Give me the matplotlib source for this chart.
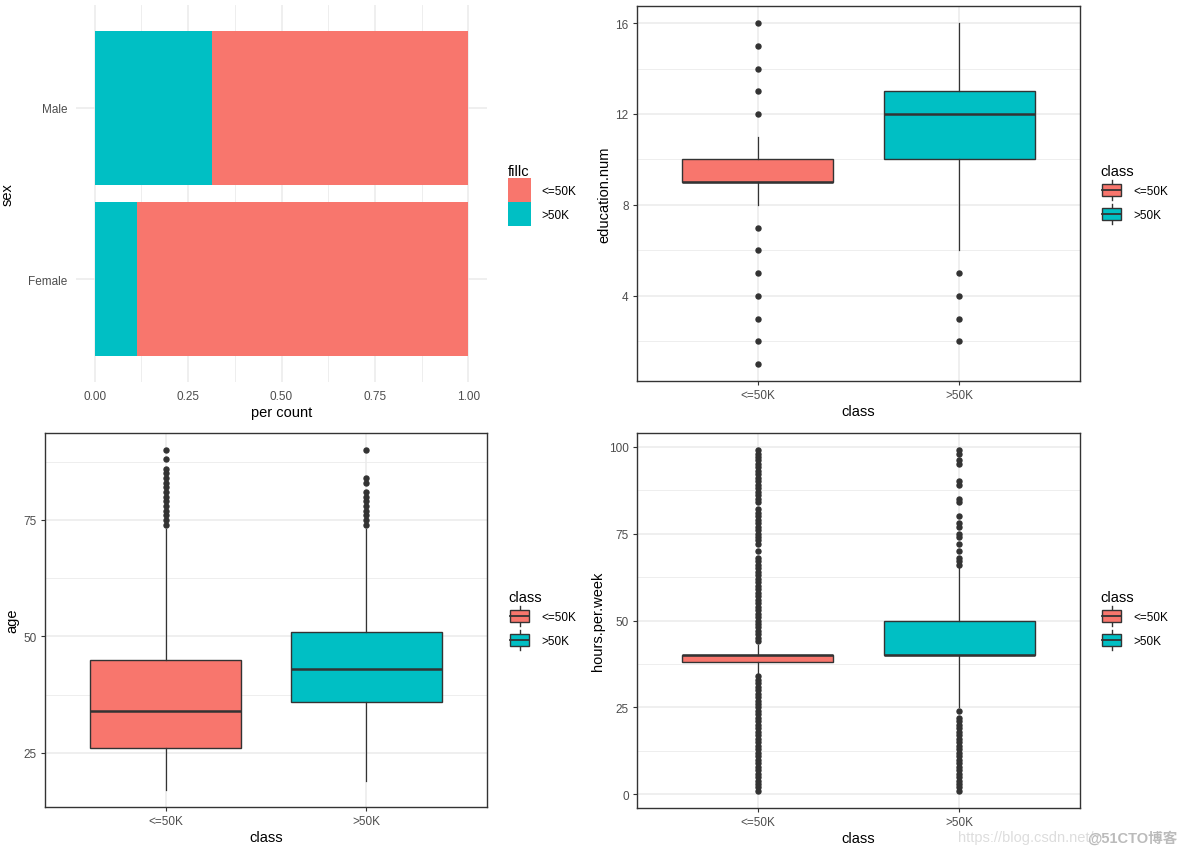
import matplotlib
matplotlib.use('Agg')
import matplotlib.pyplot as plt
from matplotlib.patches import Patch, Rectangle
from matplotlib.lines import Line2D
from matplotlib.legend_handler import HandlerBase

plt.rcParams['font.family'] = ['Liberation Sans', 'Noto Sans CJK SC', 'DejaVu Sans']

# ---- data ----
classes = ['<=50K', '>50K']
sexes = ['Female', 'Male']
frac_high = [0.113, 0.314]          # share of >50K per sex

edu_q1 = [9, 10]
edu_med = [9, 12]
edu_q3 = [10, 13]
edu_lo = [8, 6]
edu_hi = [11, 16]
edu_out = [[1, 2, 3, 4, 5, 6, 7, 12, 13, 14, 15, 16], [2, 3, 4, 5]]

age_q1 = [26, 36]
age_med = [34, 43]
age_q3 = [45, 51]
age_lo = [17, 19]
age_hi = [73, 73]
age_out = [[74, 75, 76, 77, 78, 79, 80, 81, 82, 83, 84, 85, 86, 88, 90],
           [74, 75, 76, 77, 78, 79, 80, 81, 83, 84, 90]]

hrs_q1 = [38, 40]
hrs_med = [40, 40]
hrs_q3 = [40, 50]
hrs_lo = [35, 25]
hrs_hi = [43, 65]
hrs_out = [[1, 2, 3, 4, 5, 6, 7, 8, 9, 10, 11, 12, 13, 14, 15, 16, 17, 18, 19, 20, 21, 22, 23, 24,
            25, 26, 27, 28, 29, 30, 31, 32, 33, 34,
            44, 45, 46, 47, 48, 49, 50, 51, 52, 53, 54, 55, 56, 57, 58, 59, 60, 61, 62, 63, 64, 65,
            66, 67, 68, 70, 72, 73, 74, 75, 76, 77, 78, 79, 80, 81, 82, 84, 85, 86, 87, 88, 89, 90,
            91, 92, 93, 94, 95, 96, 97, 98, 99],
           [1, 2, 3, 4, 5, 6, 7, 8, 9, 10, 11, 12, 13, 14, 15, 16, 17, 18, 19, 20, 21, 22, 24,
            66, 67, 68, 70, 72, 74, 75, 77, 78, 80, 84, 85, 89, 90, 95, 96, 98, 99]]

RED = '#F8766D'
TEAL = '#00BFC4'
GRID = '#EBEBEB'
DARK = '#333333'
TICKC = '#4D4D4D'

W, H = 1184, 854
fig = plt.figure(figsize=(W / 100, H / 100), dpi=100)


def px_axes(left, top, right, bottom):
    return fig.add_axes([left / W, 1 - bottom / H, (right - left) / W, (bottom - top) / H])


class BoxKey(HandlerBase):
    def create_artists(self, legend, orig, xd, yd, w, h, fontsize, trans):
        x0, y0 = -xd, -yd
        fc = orig.get_facecolor()
        wl = Line2D([x0 + w / 2] * 2, [y0 + 0.1 * h, y0 + 0.9 * h], color=DARK, lw=1,
                    transform=trans)
        box = Rectangle((x0 + 0.08 * w, y0 + 0.25 * h), 0.84 * w, 0.5 * h, facecolor=fc,
                        edgecolor=DARK, lw=1, transform=trans)
        med = Line2D([x0 + 0.08 * w, x0 + 0.92 * w], [y0 + h / 2] * 2, color=DARK, lw=1.3,
                     transform=trans)
        return [wl, box, med]


def add_legend(title, x, y, boxes=False):
    handles = [Patch(facecolor=RED, edgecolor='none', label=classes[0]),
               Patch(facecolor=TEAL, edgecolor='none', label=classes[1])]
    kw = {}
    if boxes:
        kw['handler_map'] = {Patch: BoxKey()}
    fig.legend(handles=handles, title=title, loc='upper left', bbox_to_anchor=(x / W, 1 - y / H),
               frameon=False, fontsize=8.5, title_fontsize=10.5, alignment='left',
               handlelength=1.95, handleheight=2.75, labelspacing=0.0, handletextpad=0.9,
               borderpad=0, borderaxespad=0, **kw)


def style_bw(ax):
    for s in ax.spines.values():
        s.set_color(DARK)
        s.set_linewidth(1.0)
    ax.set_axisbelow(True)
    ax.grid(which='major', color=GRID, lw=1.1)
    ax.grid(which='minor', axis='y', color=GRID, lw=0.6)
    ax.tick_params(which='major', length=3, width=0.8, color=DARK, labelcolor=TICKC,
                   labelsize=8.5, pad=3)
    ax.tick_params(which='minor', length=0)


def box_panel(ax, q1, med, q3, lo, hi, out, ylabel, yticks, yminor, ylim):
    stats = []
    for i in range(2):
        stats.append({'q1': q1[i], 'med': med[i], 'q3': q3[i], 'whislo': lo[i],
                      'whishi': hi[i], 'fliers': out[i]})
    res = ax.bxp(stats, positions=[1, 2], widths=0.75, patch_artist=True, showcaps=False,
                 boxprops=dict(edgecolor=DARK, lw=1.0),
                 whiskerprops=dict(color=DARK, lw=0.9),
                 medianprops=dict(color=DARK, lw=1.8),
                 flierprops=dict(marker='o', markerfacecolor=DARK, markeredgecolor=DARK,
                                 markersize=3.6, linestyle='none'))
    for patch, c in zip(res['boxes'], [RED, TEAL]):
        patch.set_facecolor(c)
    ax.set_xlim(0.4, 2.6)
    ax.set_ylim(*ylim)
    ax.set_xticks([1, 2])
    ax.set_xticklabels(classes)
    ax.set_yticks(yticks)
    ax.set_yticks(yminor, minor=True)
    ax.set_xlabel('class', fontsize=10.5, labelpad=2)
    ax.set_ylabel(ylabel, fontsize=10.5, labelpad=3)
    style_bw(ax)


# ---- top left: stacked proportion bar ----
ax1 = px_axes(76, 6, 487, 383)
low = [1 - f for f in frac_high]
ax1.barh([1, 2], frac_high, height=0.9, color=TEAL, zorder=2)
ax1.barh([1, 2], low, left=frac_high, height=0.9, color=RED, zorder=2)
ax1.set_xlim(-0.05, 1.05)
ax1.set_ylim(0.4, 2.6)
ax1.set_yticks([1, 2])
ax1.set_yticklabels(sexes)
ax1.set_xticks([0, 0.25, 0.5, 0.75, 1.0])
ax1.set_xticklabels(['0.00', '0.25', '0.50', '0.75', '1.00'])
ax1.set_xticks([0.125, 0.375, 0.625, 0.875], minor=True)
for s in ax1.spines.values():
    s.set_visible(False)
ax1.set_axisbelow(True)
ax1.grid(which='major', color=GRID, lw=1.1)
ax1.grid(which='minor', axis='x', color=GRID, lw=0.6)
ax1.tick_params(which='both', length=0, labelcolor=TICKC, labelsize=8.5, pad=6)
ax1.set_xlabel('per count', fontsize=10.5, labelpad=2)
ax1.set_ylabel('sex', fontsize=10.5, labelpad=10)
add_legend('fillc', 508, 165)

# ---- top right: education.num ----
ax2 = px_axes(637, 7, 1080, 382)
box_panel(ax2, edu_q1, edu_med, edu_q3, edu_lo, edu_hi, edu_out, 'education.num',
          [4, 8, 12, 16], [2, 6, 10, 14], (0.25, 16.75))
add_legend('class', 1100, 165, boxes=True)

# ---- bottom left: age ----
ax3 = px_axes(45, 434, 487, 808)
box_panel(ax3, age_q1, age_med, age_q3, age_lo, age_hi, age_out, 'age',
          [25, 50, 75], [37.5, 62.5, 87.5], (13.35, 93.65))
add_legend('class', 508, 591, boxes=True)

# ---- bottom right: hours.per.week ----
ax4 = px_axes(637, 434, 1080, 809)
box_panel(ax4, hrs_q1, hrs_med, hrs_q3, hrs_lo, hrs_hi, hrs_out, 'hours.per.week',
          [0, 25, 50, 75, 100], [12.5, 37.5, 62.5, 87.5], (-3.9, 103.9))
add_legend('class', 1100, 591, boxes=True)

# watermark
fig.text(958 / W, 1 - 838 / H, 'https://blog.csdn.net/', color='#DDDDDD', fontsize=10.5,
         va='center', ha='left')
fig.text(1178 / W, 1 - 838 / H, '@51CTO博客', color='#BBBBBB', fontsize=10.5,
         va='center', ha='right', fontweight='bold')

fig.savefig('out.png', dpi=100, facecolor='white')
